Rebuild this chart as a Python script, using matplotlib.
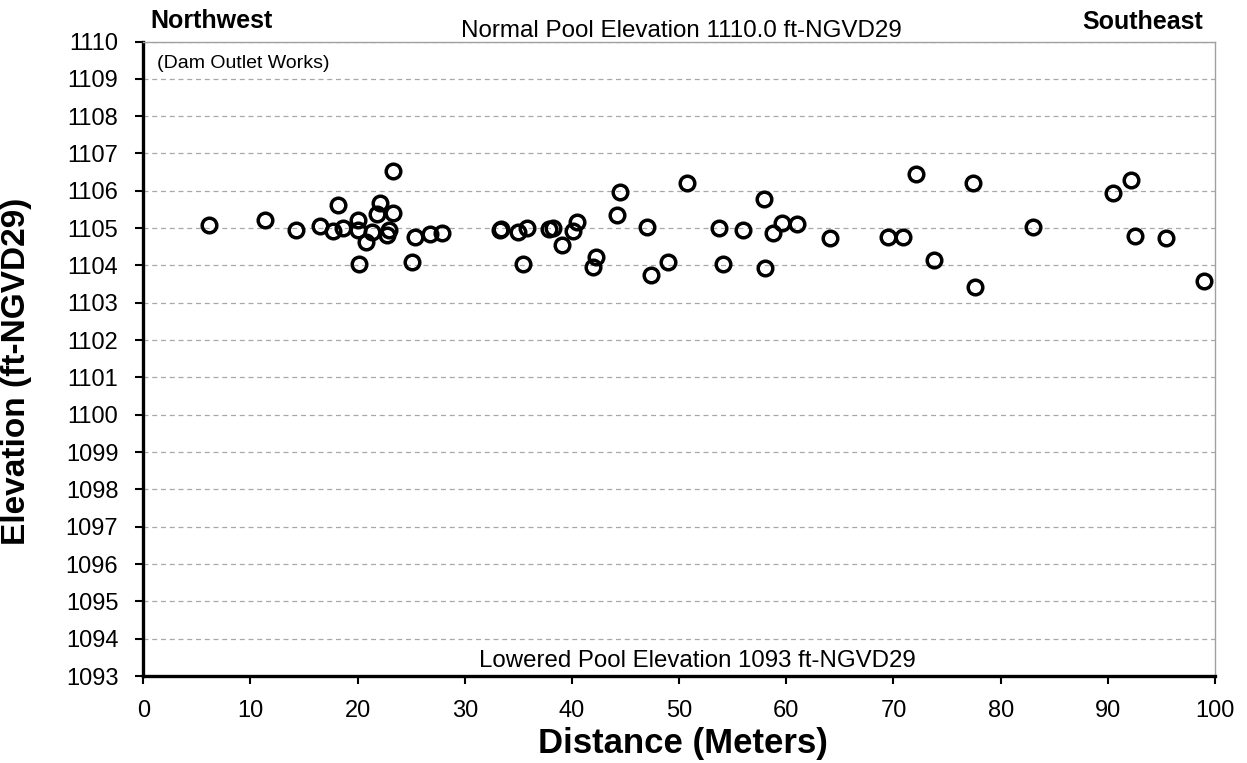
import matplotlib
matplotlib.use("Agg")
import matplotlib.pyplot as plt

distance_m = [6.16, 11.36, 14.22, 16.49, 17.67, 18.2, 18.66, 20.06, 20.06, 20.1, 20.78,
              21.31, 21.78, 22.09, 22.71, 22.96, 23.33, 23.33, 25.1, 25.35, 26.75, 27.84,
              33.28, 33.4, 34.93, 35.83, 35.46, 37.88, 38.26, 39.04, 40.07, 40.5, 41.99,
              42.24, 44.17, 44.48, 47.03, 47.37, 48.96, 50.7, 53.75, 54.06, 55.99, 57.92,
              58.04, 58.73, 59.63, 61.02, 64.08,
              69.52, 70.92, 72.1, 73.81, 77.45, 77.6, 83.05, 90.45, 92.16, 92.56, 95.43, 99.0]
elevation_ft = [1105.08, 1105.21, 1104.96, 1105.07, 1104.91, 1105.61, 1105.0, 1105.21, 1104.95,
                1104.05, 1104.62, 1104.89, 1105.39, 1105.68, 1104.82, 1104.94, 1106.53, 1105.41,
                1104.08, 1104.77, 1104.83, 1104.86,
                1104.95, 1104.98, 1104.89, 1105.0, 1104.03, 1104.98, 1105.01, 1104.55, 1104.92,
                1105.16, 1103.95, 1104.23, 1105.34, 1105.97, 1105.03, 1103.75, 1104.08, 1106.2,
                1105.0, 1104.05, 1104.96, 1105.77, 1103.94, 1104.87, 1105.14, 1105.12, 1104.73,
                1104.76, 1104.76, 1106.44, 1104.15, 1106.22, 1103.41, 1105.03, 1105.93, 1106.29,
                1104.78, 1104.74, 1103.59]

x_ticks = list(range(0, 101, 10))
y_ticks = list(range(1093, 1111))

plt.rcParams['font.family'] = ['Liberation Sans', 'DejaVu Sans']

fig = plt.figure(figsize=(12.47, 7.63), dpi=100)
W, H = 1247, 763
left, right, top, bottom = 143.3, 1215, 41.5, 676
aw, ah = right - left, bottom - top
ax = fig.add_axes([left / W, 1 - bottom / H, aw / W, ah / H])

ax.plot(distance_m, elevation_ft, linestyle='none', marker='o', markersize=10.5,
        markerfacecolor='none', markeredgecolor='black', markeredgewidth=2.5, zorder=3)

ax.set_xlim(0, 100)
ax.set_ylim(1093, 1110)
ax.set_xticks(x_ticks)
ax.set_yticks(y_ticks)
ax.tick_params(axis='both', labelsize=17, length=6, width=1.5, direction='out', colors='black')
ax.tick_params(axis='x', pad=11)
ax.tick_params(axis='y', pad=12)

ax.grid(axis='y', linestyle=(0, (4, 3)), color='#a8a8a8', linewidth=0.9)
ax.set_axisbelow(True)

for s in ['left', 'bottom']:
    ax.spines[s].set_linewidth(2.4)
    ax.spines[s].set_color('black')
for s in ['top', 'right']:
    ax.spines[s].set_linewidth(1.0)
    ax.spines[s].set_color('#a0a0a0')

ax.set_xlabel('Distance (Meters)', fontsize=25, fontweight='bold', va='top')
ax.xaxis.set_label_coords((683 - left) / aw, -(727 - bottom) / ah)
ax.set_ylabel('Elevation (ft-NGVD29)', fontsize=24, fontweight='bold')
ax.yaxis.set_label_coords((32 - left) / aw, 1 - (371 - top) / ah)

fig.text(150 / W, 1 - 21 / H, 'Northwest', fontsize=18, fontweight='bold', ha='left', va='center')
fig.text(1203 / W, 1 - 22 / H, 'Southeast', fontsize=18, fontweight='bold', ha='right', va='center')
fig.text(157 / W, 1 - 63 / H, '(Dam Outlet Works)', fontsize=14, ha='left', va='center')
fig.text(681 / W, 1 - 37 / H, 'Normal Pool Elevation 1110.0 ft-NGVD29', fontsize=17.4,
         ha='center', va='baseline')
fig.text(697 / W, 1 - 667 / H, 'Lowered Pool Elevation 1093 ft-NGVD29', fontsize=17.3,
         ha='center', va='baseline')

fig.savefig('out.png', dpi=100)
